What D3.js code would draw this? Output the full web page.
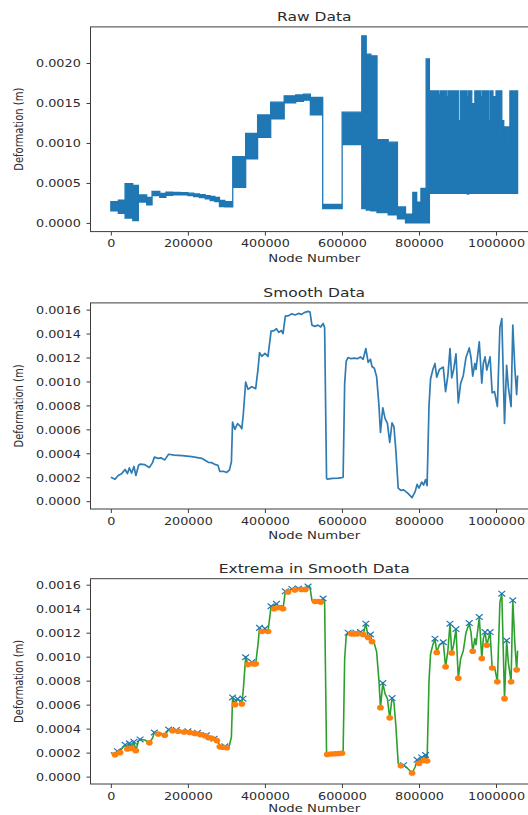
<!DOCTYPE html>
<html>
<head>
<meta charset="utf-8">
<script src="https://cdn.jsdelivr.net/npm/d3@7"></script>
<style>
  html, body { margin: 0; padding: 0; background: #fff; }
  svg { display: block; }
  text { font-family: "DejaVu Sans", sans-serif; fill: #2b2b2b; }
</style>
</head>
<body>
<svg id="chart" width="528" height="815"></svg>
<script>
// ---------- axis ticks ----------
const xTickValues = [0, 200000, 400000, 600000, 800000, 1000000];
const xTickLabels = ["0", "200000", "400000", "600000", "800000", "1000000"];
const rawTickValues = [0, 0.0005, 0.0010, 0.0015, 0.0020];
const rawTickLabels = ["0.0000", "0.0005", "0.0010", "0.0015", "0.0020"];
const smoothTickValues = [0, 0.0002, 0.0004, 0.0006, 0.0008, 0.0010, 0.0012, 0.0014, 0.0016];
const smoothTickLabels = ["0.0000", "0.0002", "0.0004", "0.0006", "0.0008", "0.0010", "0.0012", "0.0014", "0.0016"];

// ---------- raw data: envelope of the oscillating signal, block by block ----------
// each block starts at rawStart[i] and runs to the next start (last one to rawEnd)
const rawStart = [0, 19500, 37000, 57000, 71500, 93000, 107000, 127000, 143000, 160000,
  180000, 200000, 215000, 230000, 245000, 258000, 270000, 282000, 296000, 316500,
  350000, 381000, 415000, 450000, 480000, 500000, 518000, 550000, 600500, 651500,
  663000, 675000, 691000, 720000, 744000, 765000, 784000, 794000, 805000, 818500,
  827000, 852000, 856000, 866000, 868000, 872000, 876000, 902000, 907000, 925000,
  929000, 937000, 945000, 960000, 964000, 980000, 984000, 992000, 1000000, 1008000,
  1011000, 1015000, 1020000, 1025000, 1028000, 1033000, 1036000];
const rawLow = [0.000150, 0.000120, 0.000060, 0.000030, 0.000260, 0.000225, 0.000340, 0.000320, 0.000345, 0.000350,
  0.000350, 0.000340, 0.000330, 0.000318, 0.000300, 0.000280, 0.000265, 0.000205, 0.000200, 0.000445,
  0.000800, 0.001070, 0.001300, 0.001500, 0.001520, 0.001535, 0.001350, 0.000180, 0.000980, 0.000180,
  0.000160, 0.000150, 0.000130, 0.000100, 0.000050, 0.000000, 0.000000, 0.000000, 0.000000, 0.000000,
  0.000370, 0.000370, 0.000370, 0.000370, 0.000370, 0.000370, 0.000370, 0.000370, 0.000370, 0.000360,
  0.000370, 0.000370, 0.000370, 0.000370, 0.000370, 0.000370, 0.000370, 0.000370, 0.000370, 0.000400,
  0.000370, 0.000370, 0.000370, 0.000500, 0.000370, 0.000450, 0.000370];
const rawHigh = [0.000265, 0.000285, 0.000490, 0.000470, 0.000350, 0.000320, 0.000395, 0.000370, 0.000385, 0.000380,
  0.000378, 0.000372, 0.000362, 0.000352, 0.000340, 0.000330, 0.000318, 0.000280, 0.000265, 0.000830,
  0.001120, 0.001350, 0.001510, 0.001590, 0.001600, 0.001610, 0.001570, 0.000230, 0.001385, 0.002340,
  0.002110, 0.002090, 0.001040, 0.001010, 0.000200, 0.000110, 0.000380, 0.000260, 0.000430, 0.002050,
  0.001650, 0.001600, 0.001650, 0.001590, 0.001650, 0.001580, 0.001650, 0.001280, 0.001650, 0.001580,
  0.001650, 0.001490, 0.001650, 0.001580, 0.001650, 0.001280, 0.001650, 0.001580, 0.001650, 0.001100,
  0.001650, 0.001280, 0.001200, 0.001100, 0.001200, 0.001000, 0.001650];
const rawEnd = 1056000;

// ---------- smoothed data ----------
const smoothNode = [0, 11000, 19000, 28000, 37000, 43000, 48000, 54000, 60000, 65000,
  72000, 76000, 88000, 100000, 108000, 113000, 123000, 130000, 140000, 150000,
  165000, 185000, 210000, 236000, 253000, 262000, 272000, 278000, 283000, 292000,
  301000, 308000, 313000, 316000, 322000, 329000, 335000, 340000, 344000, 350000,
  356000, 366000, 376000, 382000, 386000, 392000, 400000, 408000, 416000, 424000,
  430000, 436000, 443000, 447000, 453000, 462000, 470000, 478000, 487000, 495000,
  502000, 512000, 517000, 522000, 530000, 538000, 545000, 551000, 555000, 560000,
  562000, 575000, 590000, 600000, 603000, 607000, 611000, 616000, 624000, 632000,
  640000, 648000, 655000, 662000, 668000, 674000, 678000, 684000, 690000, 696000,
  700000, 706000, 712000, 718000, 724000, 730000, 735000, 740000, 746000, 753000,
  760000, 770000, 782000, 790000, 795000, 800000, 807000, 812000, 817000, 821000,
  826000, 830000, 836000, 841500, 846000, 853000, 863000, 869000, 875000, 880500,
  885000, 890000, 896000, 902000, 908000, 915000, 922000, 930500, 935000, 939500,
  945000, 948000, 956500, 963000, 967000, 971500, 976000, 984500, 990000, 996000,
  1003500, 1010000, 1015000, 1022000, 1027500, 1032000, 1039000, 1043500, 1049000, 1053500,
  1056000];
const smoothDef = [0.000200, 0.000183, 0.000215, 0.000230, 0.000265, 0.000230, 0.000278, 0.000235, 0.000290, 0.000215,
  0.000300, 0.000310, 0.000305, 0.000282, 0.000320, 0.000368, 0.000358, 0.000362, 0.000345, 0.000392,
  0.000385, 0.000380, 0.000372, 0.000358, 0.000325, 0.000322, 0.000305, 0.000300, 0.000248, 0.000250,
  0.000240, 0.000262, 0.000330, 0.000660, 0.000600, 0.000648, 0.000630, 0.000605, 0.000730, 0.000995,
  0.000935, 0.000955, 0.000940, 0.001100, 0.001240, 0.001210, 0.001235, 0.001210, 0.001420, 0.001425,
  0.001440, 0.001410, 0.001425, 0.001400, 0.001545, 0.001550, 0.001565, 0.001555, 0.001568, 0.001560,
  0.001575, 0.001585, 0.001580, 0.001470, 0.001460, 0.001470, 0.001455, 0.001485, 0.001450, 0.000190,
  0.000185, 0.000190, 0.000193, 0.000197, 0.000200, 0.000980, 0.001170, 0.001200, 0.001190, 0.001195,
  0.001190, 0.001205, 0.001185, 0.001275, 0.001160, 0.001185, 0.001125, 0.001110, 0.001040, 0.000800,
  0.000575, 0.000780, 0.000690, 0.000650, 0.000490, 0.000655, 0.000620, 0.000420, 0.000110, 0.000090,
  0.000095, 0.000070, 0.000030, 0.000080, 0.000140, 0.000110, 0.000160, 0.000135, 0.000180, 0.000130,
  0.000800, 0.001020, 0.001100, 0.001150, 0.001035, 0.001100, 0.001120, 0.000915, 0.001050, 0.001275,
  0.001030, 0.001100, 0.001230, 0.000820, 0.000980, 0.001050, 0.001200, 0.001280, 0.001200, 0.001045,
  0.001150, 0.001100, 0.001330, 0.000985, 0.001150, 0.001205, 0.001095, 0.001205, 0.000905, 0.000915,
  0.000790, 0.001450, 0.001525, 0.000650, 0.001135, 0.000950, 0.000790, 0.001470, 0.001100, 0.000890,
  0.001050];

// ---------- extrema of the smoothed data ----------
const maxNode = [17000, 37000, 48000, 60000, 76000, 113000, 150000, 170000, 200000, 225000,
  248000, 268000, 296000, 316000, 329000, 343000, 350000, 366000, 386000, 400000,
  416000, 430000, 453000, 470000, 487000, 512000, 551000, 616000, 636000, 648000,
  662000, 674000, 706000, 730000, 760000, 795000, 807000, 817000, 841500, 863000,
  880500, 896000, 930500, 956500, 971500, 984500, 1015000, 1027500, 1043500];
const maxDef = [0.000212, 0.000265, 0.000278, 0.000290, 0.000310, 0.000368, 0.000392, 0.000388, 0.000378, 0.000365,
  0.000345, 0.000315, 0.000252, 0.000660, 0.000648, 0.000650, 0.000995, 0.000955, 0.001240, 0.001235,
  0.001420, 0.001440, 0.001545, 0.001565, 0.001568, 0.001585, 0.001485, 0.001200, 0.001200, 0.001205,
  0.001275, 0.001185, 0.000780, 0.000655, 0.000095, 0.000140, 0.000160, 0.000180, 0.001150, 0.001120,
  0.001275, 0.001230, 0.001280, 0.001330, 0.001205, 0.001205, 0.001525, 0.001135, 0.001470];
const minNode = [11000, 24000, 43000, 54000, 65000, 100000, 123000, 140000, 160000, 175000,
  190000, 205000, 218000, 232000, 245000, 253000, 262000, 275000, 283000, 292000,
  301000, 322000, 340000, 356000, 370000, 376000, 392000, 408000, 424000, 436000,
  447000, 460000, 478000, 495000, 505000, 530000, 540000, 545000, 562000, 572000,
  582000, 592000, 600000, 624000, 632000, 640000, 655000, 668000, 678000, 700000,
  724000, 753000, 782000, 800000, 812000, 821000, 846000, 869000, 885000, 902000,
  939500, 963000, 976000, 990000, 1003500, 1022000, 1039000, 1053500];
const minDef = [0.000183, 0.000200, 0.000230, 0.000235, 0.000215, 0.000282, 0.000355, 0.000345, 0.000382, 0.000378,
  0.000372, 0.000368, 0.000360, 0.000350, 0.000340, 0.000325, 0.000320, 0.000300, 0.000248, 0.000245,
  0.000240, 0.000600, 0.000605, 0.000935, 0.000940, 0.000940, 0.001210, 0.001210, 0.001400, 0.001410,
  0.001400, 0.001540, 0.001555, 0.001560, 0.001560, 0.001460, 0.001460, 0.001455, 0.000185, 0.000188,
  0.000190, 0.000192, 0.000195, 0.001190, 0.001190, 0.001190, 0.001185, 0.001160, 0.001125, 0.000575,
  0.000490, 0.000090, 0.000030, 0.000110, 0.000135, 0.000130, 0.001035, 0.000915, 0.001030, 0.000820,
  0.001045, 0.000985, 0.001095, 0.000905, 0.000790, 0.000650, 0.000790, 0.000890];

// ---------- layout ----------
const svg = d3.select("#chart");
const AX_LEFT = 90.5;
const PX_PER_NODE = 0.0003852;
const X_DOMAIN = [-52800, 1108800];
const STRETCH = 1.22;           // horizontal text stretch
const TEXT = "#2b2b2b";
const SPINE = "#3c3c3c";

const x = d3.scaleLinear()
  .domain(X_DOMAIN)
  .range([AX_LEFT, AX_LEFT + (X_DOMAIN[1] - X_DOMAIN[0]) * PX_PER_NODE]);

const panels = [
  { title: "Raw Data", top: 26.9, bottom: 231.6, xlabelGap: 26.6, domain: [-0.0001088, 0.0024515], ticks: rawTickValues, labels: rawTickLabels },
  { title: "Smooth Data", top: 302.9, bottom: 509.0, xlabelGap: 26.0, domain: [-0.0000651, 0.0016559], ticks: smoothTickValues, labels: smoothTickLabels },
  { title: "Extrema in Smooth Data", top: 578.7, bottom: 784.0, xlabelGap: 24.0, domain: [-0.0000617, 0.0016500], ticks: smoothTickValues, labels: smoothTickLabels }
];

const defs = svg.append("defs");

function drawPanel(p, idx) {
  const y = d3.scaleLinear().domain(p.domain).range([p.bottom, p.top]);
  const g = svg.append("g");
  const clipId = "clip" + idx;
  defs.append("clipPath").attr("id", clipId)
    .append("rect")
    .attr("x", x.range()[0]).attr("y", p.top)
    .attr("width", x.range()[1] - x.range()[0]).attr("height", p.bottom - p.top);
  const plot = g.append("g").attr("clip-path", `url(#${clipId})`);

  // axes frame
  g.append("rect")
    .attr("x", x.range()[0]).attr("y", p.top)
    .attr("width", x.range()[1] - x.range()[0]).attr("height", p.bottom - p.top)
    .attr("fill", "none").attr("stroke", SPINE).attr("stroke-width", 1);

  // x axis
  const gx = g.append("g").attr("transform", `translate(0,${p.bottom})`)
    .call(d3.axisBottom(x).tickValues(xTickValues).tickFormat((d, i) => xTickLabels[i]).tickSize(4));
  gx.select(".domain").remove();
  gx.selectAll(".tick line").attr("stroke", SPINE);
  gx.selectAll(".tick text")
    .attr("font-family", "DejaVu Sans").attr("font-size", 10.5).attr("fill", TEXT)
    .attr("y", 15.6).attr("dy", null)
    .attr("transform", `scale(${STRETCH},1)`);

  // y axis
  const gy = g.append("g").attr("transform", `translate(${AX_LEFT},0)`)
    .call(d3.axisLeft(y).tickValues(p.ticks).tickFormat((d, i) => p.labels[i]).tickSize(4));
  gy.select(".domain").remove();
  gy.selectAll(".tick line").attr("stroke", SPINE);
  gy.selectAll(".tick text")
    .attr("font-family", "DejaVu Sans").attr("font-size", 10.5).attr("fill", TEXT)
    .attr("x", -9.7 / STRETCH).attr("dy", "0.36em")
    .attr("transform", `scale(${STRETCH},1)`);

  // title
  const cx = (x.range()[0] + x.range()[1]) / 2;
  g.append("text")
    .attr("transform", `translate(${cx},${p.top - 10.8 + 4.6}) scale(1.24,1)`)
    .attr("text-anchor", "middle").attr("font-size", 12.5).attr("fill", TEXT)
    .text(p.title);

  // x label
  g.append("text")
    .attr("transform", `translate(${cx},${p.bottom + p.xlabelGap + 3.9}) scale(1.25,1)`)
    .attr("text-anchor", "middle").attr("font-size", 10.6).attr("fill", TEXT)
    .text("Node Number");

  // y label
  g.append("text")
    .attr("transform", `translate(${19.6 + 3.6},${(p.top + p.bottom) / 2}) scale(1.22,1) rotate(-90)`)
    .attr("text-anchor", "middle").attr("font-size", 10).attr("fill", TEXT)
    .text("Deformation (m)");

  return { y, plot };
}

// ---------- panel 1: raw data envelope ----------
{
  const { y, plot } = drawPanel(panels[0], 0);
  const blocks = rawStart.map((s, i) => ({ n: s, lo: rawLow[i], hi: rawHigh[i] }));
  const last = blocks[blocks.length - 1];
  blocks.push({ n: rawEnd, lo: last.lo, hi: last.hi });
  const area = d3.area().curve(d3.curveStepAfter)
    .x(d => x(d.n)).y0(d => y(d.lo)).y1(d => y(d.hi));
  plot.append("path").datum(blocks)
    .attr("d", area)
    .attr("fill", "#1f77b4").attr("stroke", "#1f77b4")
    .attr("stroke-width", 1.3).attr("stroke-linejoin", "miter");
}

// ---------- panel 2: smoothed data ----------
const smoothPts = smoothNode.map((n, i) => [n, smoothDef[i]]);
{
  const { y, plot } = drawPanel(panels[1], 1);
  const line = d3.line().x(d => x(d[0])).y(d => y(d[1]));
  plot.append("path").datum(smoothPts)
    .attr("d", line).attr("fill", "none")
    .attr("stroke", "#2f7bb3").attr("stroke-width", 1.7).attr("stroke-linejoin", "round");
}

// ---------- panel 3: smoothed data with extrema ----------
{
  const { y, plot } = drawPanel(panels[2], 2);
  const line = d3.line().x(d => x(d[0])).y(d => y(d[1]));
  plot.append("path").datum(smoothPts)
    .attr("d", line).attr("fill", "none")
    .attr("stroke", "#2ca02c").attr("stroke-width", 1.6).attr("stroke-linejoin", "round");

  const maxPts = maxNode.map((n, i) => [n, maxDef[i]]);
  plot.selectAll("path.max").data(maxPts).join("path")
    .attr("class", "max")
    .attr("transform", d => `translate(${x(d[0])},${y(d[1])})`)
    .attr("d", "M-3.4,-2.8L3.4,2.8M-3.4,2.8L3.4,-2.8")
    .attr("stroke", "#1f77b4").attr("stroke-width", 1.2).attr("fill", "none");

  const minPts = minNode.map((n, i) => [n, minDef[i]]);
  plot.selectAll("ellipse.min").data(minPts).join("ellipse")
    .attr("class", "min")
    .attr("cx", d => x(d[0])).attr("cy", d => y(d[1]))
    .attr("rx", 3.4).attr("ry", 2.8)
    .attr("fill", "#ff7f0e");
}
</script>
</body>
</html>
